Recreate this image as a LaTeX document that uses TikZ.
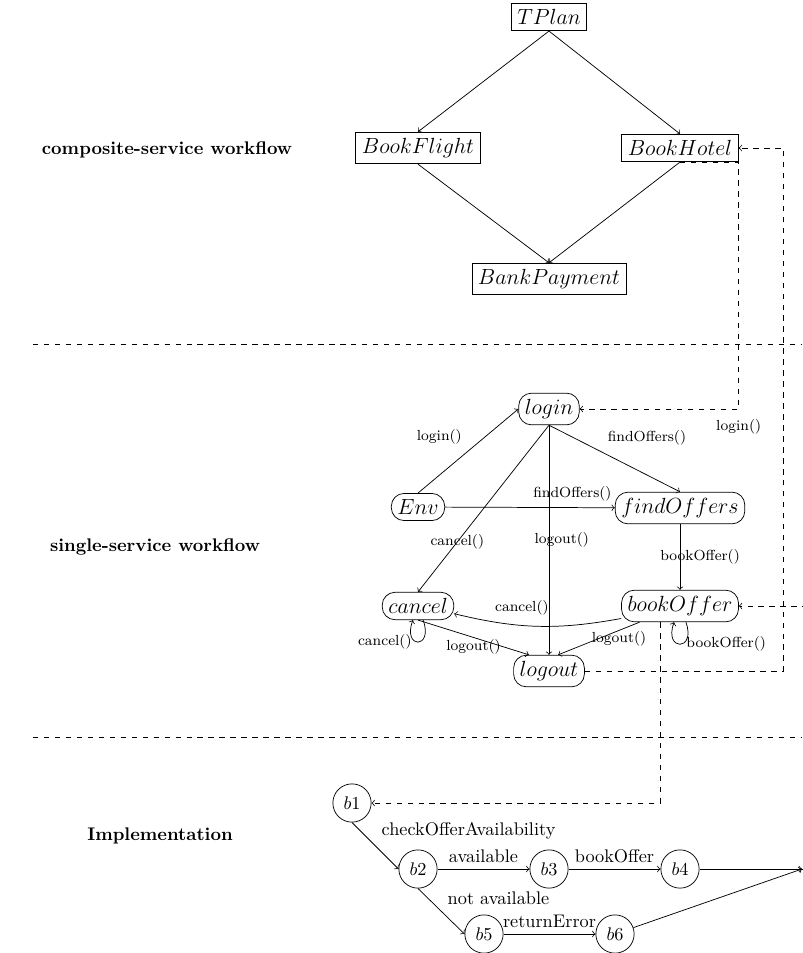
\documentclass[tikz,border=0pt]{standalone}
\usepackage{tikz}

\begin{document}
\begin{tikzpicture}[x=0.1923mm,y=-0.1923mm,
      task/.style={draw,font=\large},
      svc/.style={draw,rounded corners=7pt,font=\large},
      act/.style={draw,circle},
      lbl/.style={font=\footnotesize},
      tier/.style={font=\bfseries},
      link/.style={dashed,->}]
            \useasboundingbox (0,0) rectangle (802,953);

            \node[tier] (comp) at (167,150) {composite-service workflow};
            \node[tier] (single) at (155,547) {single-service workflow};
            \node[tier] (impl) at (160,836) {Implementation};

            \draw [dashed] (33,344) -- (802,344);
            \draw [dashed] (33,737) -- (802,737);

            \node[task] (TPlan) at (549,17) {$TPlan$};
            \node[task] (BookFlight) at (418,148) {$BookFlight$};
            \node[task] (BookHotel) at (680,148) {$BookHotel$};
            \node[task] (BankPayment) at (549,279) {$BankPayment$};

            \draw [->] (TPlan.south) -- (BookFlight.north);
            \draw [->] (TPlan.south) -- (BookHotel.north);
            \draw [->] (BookFlight.south) -- (BankPayment.north);
            \draw [->] (BookHotel.south) -- (BankPayment.north);

            \node[svc] (login) at (549,409) {$login$};
            \node[svc] (Env) at (418,507) {$Env$};
            \node[svc] (findOffers) at (680,508) {$findOffers$};
            \node[svc] (cancel) at (418,606) {$cancel$};
            \node[svc] (bookOffer) at (680,606) {$bookOffer$};
            \node[svc] (logout) at (549,671) {$logout$};

            \draw [->] (Env.north) -- node[lbl,above left] {login()} (login.west);
            \draw [->] (login.south) -- node[lbl,above right,pos=0.4] {findOffers()} (findOffers.north);
            \draw [->] (login.south) -- node[lbl,pos=0.7] {cancel()} (cancel.north);
            \draw [->] (login.south) -- node[lbl,xshift=7pt] {logout()} (logout.north);
            \draw [->] (Env) -- node[lbl,above,pos=0.75] {findOffers()} (findOffers);
            \draw [->] (findOffers) -- node[lbl,xshift=11pt] {bookOffer()} (bookOffer);
            \draw [->] (bookOffer) to[bend left=12] node[lbl,above=2pt,pos=0.6] {cancel()} (cancel);
            \draw [->] (cancel) to[loop below,out=-70,in=-110,min distance=6mm] node[lbl,left] {cancel()} (cancel);
            \draw [->] (bookOffer) to[loop below,out=-70,in=-110,min distance=6mm] node[lbl,right] {bookOffer()} (bookOffer);
            \draw [->] (cancel.south) -- node[lbl,yshift=-5pt] {logout()} ([xshift=-11pt]logout.north);
            \draw [->] (bookOffer) -- node[lbl,xshift=11pt] {logout()} ([xshift=5pt]logout.north);

            \node[act] (b1) at (352,803) {$b1$};
            \node[act] (b2) at (418,869) {$b2$};
            \node[act] (b3) at (549,869) {$b3$};
            \node[act] (b4) at (680,869) {$b4$};
            \node[act] (b5) at (484,934) {$b5$};
            \node[act] (b6) at (615,934) {$b6$};
            \coordinate (implend) at (802,869);
            \coordinate (hotelin) at (783,148);

            \draw [->] (b1.south) -- node[above right] {checkOfferAvailability} (b2.west);
            \draw [->] (b2) -- node[above] {available} (b3);
            \draw [->] (b3) -- node[above] {bookOffer} (b4);
            \draw [->] (b2.south) -- node[above right] {not available} (b5.west);
            \draw [->] (b5) -- node[above] {returnError} (b6);
            \draw [->] (b4) -- (implend);
            \draw [->] (b6) -- (implend);

            \draw [link] (BookHotel.south) -- (BookHotel.south east) |- node[lbl,below=2pt] {login()} (login.east);
            \draw [link] (logout.east) -| (hotelin) -- (BookHotel.east);
            \draw [link] (implend) -- ++(3,0) |- (bookOffer.east);
            \draw [link] ([xshift=-11pt]bookOffer.south) |- (b1.east);
         \end{tikzpicture}
\end{document}
